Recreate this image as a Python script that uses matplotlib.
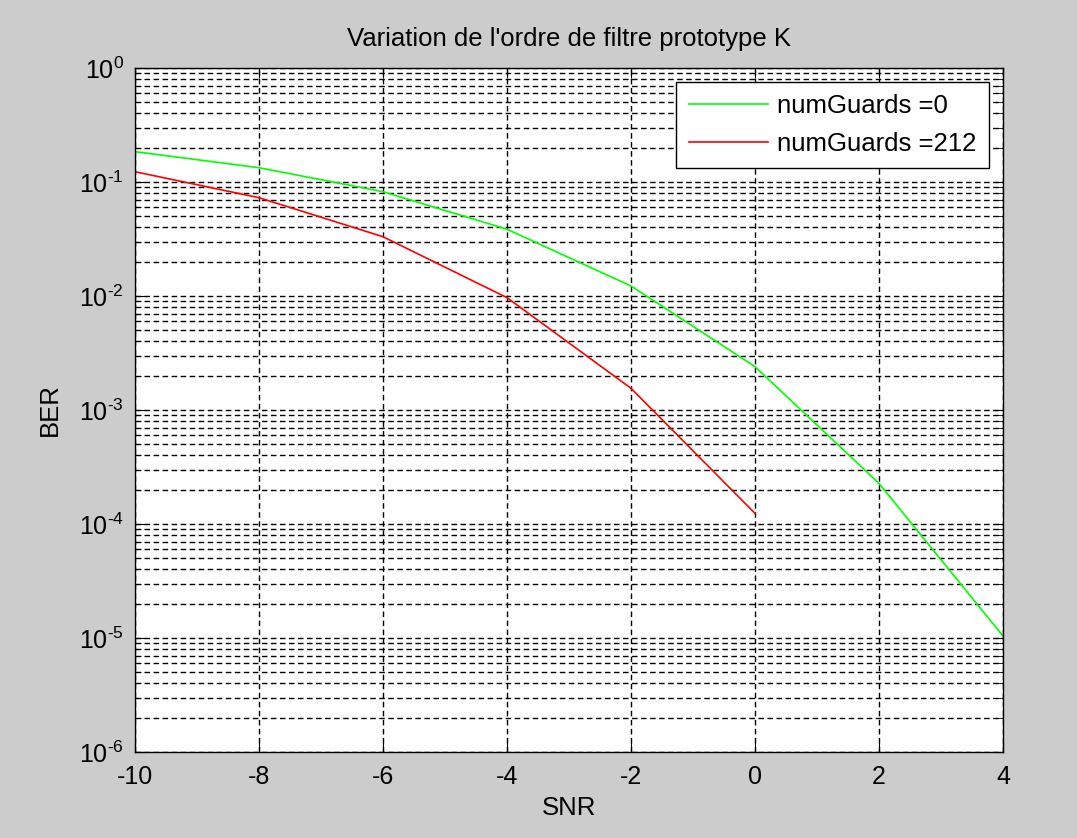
import matplotlib
matplotlib.use("Agg")
import matplotlib.pyplot as plt
from matplotlib.ticker import LogLocator, NullFormatter

snr = [-10, -8, -6, -4, -2, 0, 2, 4]
ber_g0 = [0.1845, 0.1334, 0.0822, 0.0385, 0.01224, 0.0024, 2.27e-4, 1.04e-5]
snr_212 = [-10, -8, -6, -4, -2, 0]
ber_g212 = [0.123, 0.0728, 0.0331, 0.00967, 0.00155, 1.24e-4]
labels = ["numGuards =0", "numGuards =212"]
xticks = [-10, -8, -6, -4, -2, 0, 2, 4]
yexps = [-6, -5, -4, -3, -2, -1, 0]

plt.rcParams['font.family'] = ['Liberation Sans', 'DejaVu Sans']
plt.rcParams['mathtext.fontset'] = 'custom'
plt.rcParams['mathtext.rm'] = 'Liberation Sans'
plt.rcParams['mathtext.it'] = 'Liberation Sans'
plt.rcParams['mathtext.bf'] = 'Liberation Sans'
plt.rcParams['axes.unicode_minus'] = False

FS = 18.5
TFS = 18

fig = plt.figure(figsize=(10.77, 8.38), dpi=100, facecolor='#cccccc')
ax = fig.add_axes([0.1253, 0.1026, 0.806, 0.8163])
ax.set_facecolor('white')

ax.plot(snr, ber_g0, color='#00ff00', lw=1.2, label=labels[0])
ax.plot(snr_212, ber_g212, color='#ff0000', lw=1.2, label=labels[1])

ax.set_yscale('log')
ax.set_xlim(-10, 4)
ax.set_ylim(1e-6, 1)
ax.set_xticks(xticks)
ax.set_xticklabels([str(v) for v in xticks])
ax.yaxis.set_minor_locator(LogLocator(base=10, subs=range(2, 10), numticks=100))
ax.yaxis.set_minor_formatter(NullFormatter())
ax.set_yticks([10.0**e for e in yexps])
ax.set_yticklabels([r'$\mathregular{10^{\text{%d}}}$' % e for e in yexps])

dash = (0, (4, 2.5))
ax.grid(True, which='major', axis='both', color='black', linestyle=dash, linewidth=1.0)
ax.grid(True, which='minor', axis='y', color='black', linestyle=dash, linewidth=1.0)

ax.tick_params(which='both', direction='in', top=True, right=True, labelsize=TFS, colors='black')
ax.tick_params(which='major', length=7)
ax.tick_params(which='minor', length=4)
ax.tick_params(axis='x', pad=9)
ax.tick_params(axis='y', pad=8)
for s in ax.spines.values():
    s.set_linewidth(1.0)
    s.set_color('black')

ax.set_xlabel('SNR', fontsize=FS, va='center')
ax.xaxis.set_label_coords(0.5, -0.082)
ax.set_ylabel('BER', fontsize=FS, va='center')
ax.yaxis.set_label_coords(-0.098, 0.5)
ax.set_title("Variation de l'ordre de filtre prototype K", fontsize=FS, pad=16)

leg = ax.legend(loc='upper right', fontsize=FS, fancybox=False, framealpha=1,
                edgecolor='black', handlelength=3.1, handletextpad=0.35,
                borderaxespad=0.55, borderpad=0.48, labelspacing=0.53)
leg.get_frame().set_linewidth(1.0)

fig.savefig('out.png', dpi=100, facecolor=fig.get_facecolor())
